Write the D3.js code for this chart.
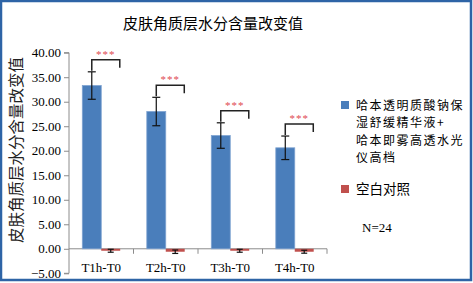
<!DOCTYPE html>
<html>
<head>
<meta charset="utf-8">
<script src="https://cdn.jsdelivr.net/npm/d3@7"></script>
<style>
  body { margin: 0; background: #fff; }
  svg { display: block; }
</style>
</head>
<body>
<svg width="473" height="283"></svg>
<script>
// 数据
const categories = ["T1h-T0", "T2h-T0", "T3h-T0", "T4h-T0"];
const seriesNames = ["哈本透明质酸钠保湿舒缓精华液+哈本即雾高透水光仪高档", "空白对照"];
const treatValues = [33.3, 28.0, 23.1, 20.6];
const treatErrors = [2.8, 2.9, 2.6, 2.4];
const blankValues = [-0.4, -0.6, -0.4, -0.6];
const blankErrors = [0.3, 0.35, 0.3, 0.3];
const yTicks = [-5, 0, 5, 10, 15, 20, 25, 30, 35, 40];
const signif = ["***", "***", "***", "***"];
const legendLines = ["哈本透明质酸钠保", "湿舒缓精华液+", "哈本即雾高透水光", "仪高档"];

const colors = ["#4a7ebb", "#c0504d"];
const serif = "'Liberation Serif', 'Times New Roman', serif";
const cjk = "'Noto Sans CJK SC', sans-serif";

const svg = d3.select("svg");

// 外框
svg.append("rect")
  .attr("x", 1).attr("y", 1).attr("width", 470).attr("height", 279)
  .attr("fill", "none").attr("stroke", "#2e64a6").attr("stroke-width", 2.5);

const x0 = d3.scaleBand().domain(categories).range([69, 327]);
const x1 = d3.scaleBand().domain([0, 1]).range([13.3, x0.bandwidth() - 13.3]);
const y = d3.scaleLinear().domain([-5, 40]).range([273.3, 52.7]);

// 标题
svg.append("text")
  .attr("x", 213).attr("y", 29)
  .attr("text-anchor", "middle")
  .attr("font-family", cjk).attr("font-size", 15)
  .text("皮肤角质层水分含量改变值");

svg.append("text")
  .attr("transform", "translate(22,150) rotate(-90)")
  .attr("text-anchor", "middle")
  .attr("font-family", cjk).attr("font-size", 15.5)
  .attr("fill", "#222")
  .text("皮肤角质层水分含量改变值");

// y 轴
const yAxis = svg.append("g")
  .attr("transform", "translate(69,0)")
  .call(d3.axisLeft(y).tickValues(yTicks).tickFormat(d3.format(".2f")).tickSize(5).tickPadding(3));
yAxis.select(".domain").attr("stroke", "#8c8c8c").attr("d", "M-5," + y(-5) + "H0V" + y(40) + "H-5");
yAxis.selectAll(".tick line").attr("stroke", "#8c8c8c");
yAxis.selectAll(".tick text")
  .attr("font-family", serif).attr("font-size", 13).attr("fill", "#000");

// x 轴 (零线)
svg.append("line")
  .attr("x1", 69).attr("x2", 327).attr("y1", y(0)).attr("y2", y(0))
  .attr("stroke", "#8c8c8c");
svg.selectAll(".xtick")
  .data(categories)
  .join("line")
  .attr("x1", d => x0(d) + x0.bandwidth()).attr("x2", d => x0(d) + x0.bandwidth())
  .attr("y1", y(0)).attr("y2", y(0) + 5)
  .attr("stroke", "#8c8c8c");
svg.selectAll(".xlabel")
  .data(categories)
  .join("text")
  .attr("x", d => x0(d) + x0.bandwidth() / 2)
  .attr("y", 271.5)
  .attr("text-anchor", "middle")
  .attr("font-family", serif).attr("font-size", 13)
  .text(d => d);

// 柱子
const series = [treatValues, blankValues];
const errs = [treatErrors, blankErrors];
series.forEach((vals, s) => {
  svg.selectAll(".bar" + s)
    .data(vals)
    .join("rect")
    .attr("x", (d, i) => x0(categories[i]) + x1(s))
    .attr("width", x1.bandwidth())
    .attr("y", d => Math.min(y(d), y(0)))
    .attr("height", d => Math.abs(y(d) - y(0)))
    .attr("fill", colors[s])
    .attr("stroke", s === 0 ? "#7fa3d1" : "none")
    .attr("stroke-width", 0.8);
});

// 误差线
series.forEach((vals, s) => {
  const g = svg.append("g").attr("stroke", "#111").attr("stroke-width", 1.2);
  vals.forEach((v, i) => {
    const cx = x0(categories[i]) + x1(s) + x1.bandwidth() / 2;
    const lo = y(v - errs[s][i]), hi = y(v + errs[s][i]);
    const w = s === 0 ? 4 : 3;
    g.append("line").attr("x1", cx).attr("x2", cx).attr("y1", hi).attr("y2", lo);
    g.append("line").attr("x1", cx - w).attr("x2", cx + w).attr("y1", hi).attr("y2", hi);
    g.append("line").attr("x1", cx - w).attr("x2", cx + w).attr("y1", lo).attr("y2", lo);
  });
});

// 显著性括号
categories.forEach((c, i) => {
  const lx = x0(c) + x1(0) + x1.bandwidth() / 2;
  const rx = lx + 28;
  const top = y(treatValues[i] + treatErrors[i]);
  const by = top - 12;
  svg.append("path")
    .attr("d", `M${lx},${top - 1}V${by}H${rx}V${by + 8}`)
    .attr("fill", "none").attr("stroke", "#222").attr("stroke-width", 1.5);
  svg.append("text")
    .attr("x", (lx + rx) / 2).attr("y", by - 2)
    .attr("text-anchor", "middle")
    .attr("font-family", serif).attr("font-size", 11)
    .attr("fill", "#e0484f").attr("letter-spacing", 1)
    .text(signif[i]);
});

// 图例
const leg = svg.append("g");
leg.append("rect").attr("x", 341).attr("y", 101).attr("width", 8).attr("height", 8).attr("fill", colors[0]);
leg.selectAll(".ll")
  .data(legendLines)
  .join("text")
  .attr("x", 356)
  .attr("y", (d, i) => 109.5 + i * 17.5)
  .attr("font-family", cjk).attr("font-size", 12)
  .attr("letter-spacing", 1.5)
  .text(d => d);
leg.append("rect").attr("x", 341).attr("y", 185).attr("width", 8).attr("height", 8).attr("fill", colors[1]);
leg.append("text")
  .attr("x", 356).attr("y", 194)
  .attr("font-family", cjk).attr("font-size", 13.5)
  .text(seriesNames[1]);
leg.append("text")
  .attr("x", 362).attr("y", 232)
  .attr("font-family", serif).attr("font-size", 13)
  .text("N=24");
</script>
</body>
</html>
